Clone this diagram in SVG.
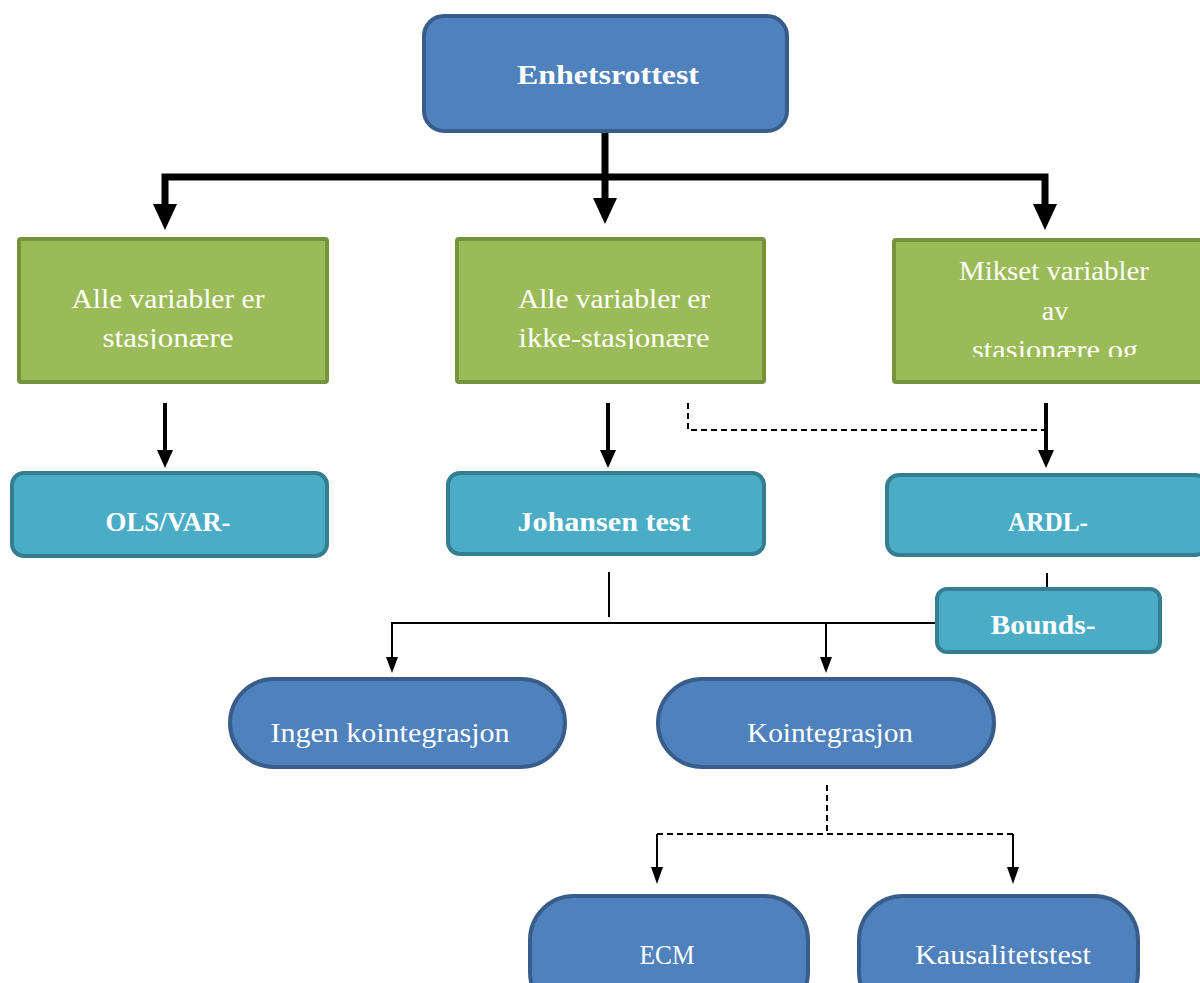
<svg xmlns="http://www.w3.org/2000/svg" width="1200" height="983" viewBox="0 0 1200 983">
<style>
.dark{fill:#4f81bd;stroke:#385d8a;stroke-width:4}
.green{fill:#9bbb59;stroke:#76923c;stroke-width:4}
.teal{fill:#4bacc6;stroke:#357d91;stroke-width:4}
text{font-family:"Liberation Serif","DejaVu Serif",serif;fill:#ffffff;text-anchor:middle;font-size:28px}
.b{font-weight:bold}
.thick{stroke:#000;stroke-width:7;fill:none}
.mid{stroke:#000;stroke-width:4;fill:none}
.thin{stroke:#000;stroke-width:2;fill:none}
.dash{stroke:#000;stroke-width:2;fill:none;stroke-dasharray:6 4}
</style>
<defs>
<clipPath id="c1"><rect x="0" y="200" width="1200" height="149"/></clipPath>
<clipPath id="c2"><rect x="0" y="200" width="1200" height="157"/></clipPath>
</defs>
<g id="connectors">
<line class="thick" x1="605" y1="131" x2="605" y2="200"/>
<polyline class="thick" points="165,205 165,177 1045,177 1045,205"/>
<path d="M593,198 L617,198 L605,224 Z"/>
<path d="M153,204 L177,204 L165,230 Z"/>
<path d="M1033,204 L1057,204 L1045,230 Z"/>
<line class="mid" x1="165" y1="403" x2="165" y2="452"/>
<path d="M157,450 L173,450 L165,468 Z"/>
<line class="mid" x1="608" y1="403" x2="608" y2="452"/>
<path d="M600,450 L616,450 L608,468 Z"/>
<line class="mid" x1="1046" y1="403" x2="1046" y2="452"/>
<path d="M1038,450 L1054,450 L1046,468 Z"/>
<polyline class="dash" points="688,403 688,430 1046,430"/>
<line class="thin" x1="609" y1="572" x2="609" y2="617"/>
<line class="thin" x1="1047" y1="573" x2="1047" y2="589"/>
<polyline class="thin" points="392,660 392,623 937,623"/>
<line class="thin" x1="826" y1="623" x2="826" y2="660"/>
<path d="M386,657 L398,657 L392,673 Z"/>
<path d="M820,657 L832,657 L826,673 Z"/>
<polyline class="dash" points="827,785 827,834"/>
<polyline class="dash" points="657,834 1013,834"/>
<line class="thin" x1="657" y1="834" x2="657" y2="870"/>
<line class="thin" x1="1013" y1="834" x2="1013" y2="870"/>
<path d="M651,867 L663,867 L657,884 Z"/>
<path d="M1007,867 L1019,867 L1013,884 Z"/>
</g>
<g id="n-enhetsrottest">
<rect class="dark" x="424" y="16" width="363" height="115" rx="20"/>
<text class="b" x="608" y="84" textLength="182" lengthAdjust="spacingAndGlyphs">Enhetsrottest</text>
</g>
<g id="n-stasjonaere">
<rect class="green" x="19" y="239" width="308" height="143" rx="2"/>
<text x="168" y="308" textLength="193" lengthAdjust="spacingAndGlyphs">Alle variabler er</text>
<text x="168" y="347" textLength="131" lengthAdjust="spacingAndGlyphs" clip-path="url(#c1)">stasjonære</text>
</g>
<g id="n-ikke-stasjonaere">
<rect class="green" x="457" y="239" width="307" height="143" rx="2"/>
<text x="614" y="308" textLength="192" lengthAdjust="spacingAndGlyphs">Alle variabler er</text>
<text x="614" y="347" textLength="191" lengthAdjust="spacingAndGlyphs" clip-path="url(#c1)">ikke-stasjonære</text>
</g>
<g id="n-mikset">
<rect class="green" x="894" y="240" width="312" height="142" rx="2"/>
<text x="1054" y="280" textLength="190" lengthAdjust="spacingAndGlyphs">Mikset variabler</text>
<text x="1055" y="320">av</text>
<text x="1055" y="359" textLength="166" lengthAdjust="spacingAndGlyphs" clip-path="url(#c2)">stasjonære og</text>
</g>
<g id="n-ols">
<rect class="teal" x="12" y="473" width="315" height="83" rx="12"/>
<text class="b" x="168" y="531" textLength="125" lengthAdjust="spacingAndGlyphs">OLS/VAR-</text>
</g>
<g id="n-johansen">
<rect class="teal" x="448" y="473" width="316" height="81" rx="12"/>
<text class="b" x="604" y="531" textLength="173" lengthAdjust="spacingAndGlyphs">Johansen test</text>
</g>
<g id="n-ardl">
<rect class="teal" x="887" y="475" width="320" height="80" rx="12"/>
<text class="b" x="1048" y="531" textLength="80" lengthAdjust="spacingAndGlyphs">ARDL-</text>
</g>
<g id="n-bounds">
<rect class="teal" x="937" y="589" width="223" height="63" rx="10"/>
<text class="b" x="1043" y="634" textLength="105" lengthAdjust="spacingAndGlyphs">Bounds-</text>
</g>
<g id="n-ingen">
<rect class="dark" x="230" y="679" width="335" height="88" rx="44"/>
<text x="390" y="742" textLength="239" lengthAdjust="spacingAndGlyphs">Ingen kointegrasjon</text>
</g>
<g id="n-kointegrasjon">
<rect class="dark" x="658" y="679" width="336" height="88" rx="44"/>
<text x="830" y="742" textLength="166" lengthAdjust="spacingAndGlyphs">Kointegrasjon</text>
</g>
<g id="n-ecm">
<rect class="dark" x="530" y="896" width="278" height="120" rx="44"/>
<text x="667" y="964" textLength="55" lengthAdjust="spacingAndGlyphs">ECM</text>
</g>
<g id="n-kausalitetstest">
<rect class="dark" x="859" y="896" width="279" height="120" rx="44"/>
<text x="1003" y="964" textLength="176" lengthAdjust="spacingAndGlyphs">Kausalitetstest</text>
</g>
</svg>
